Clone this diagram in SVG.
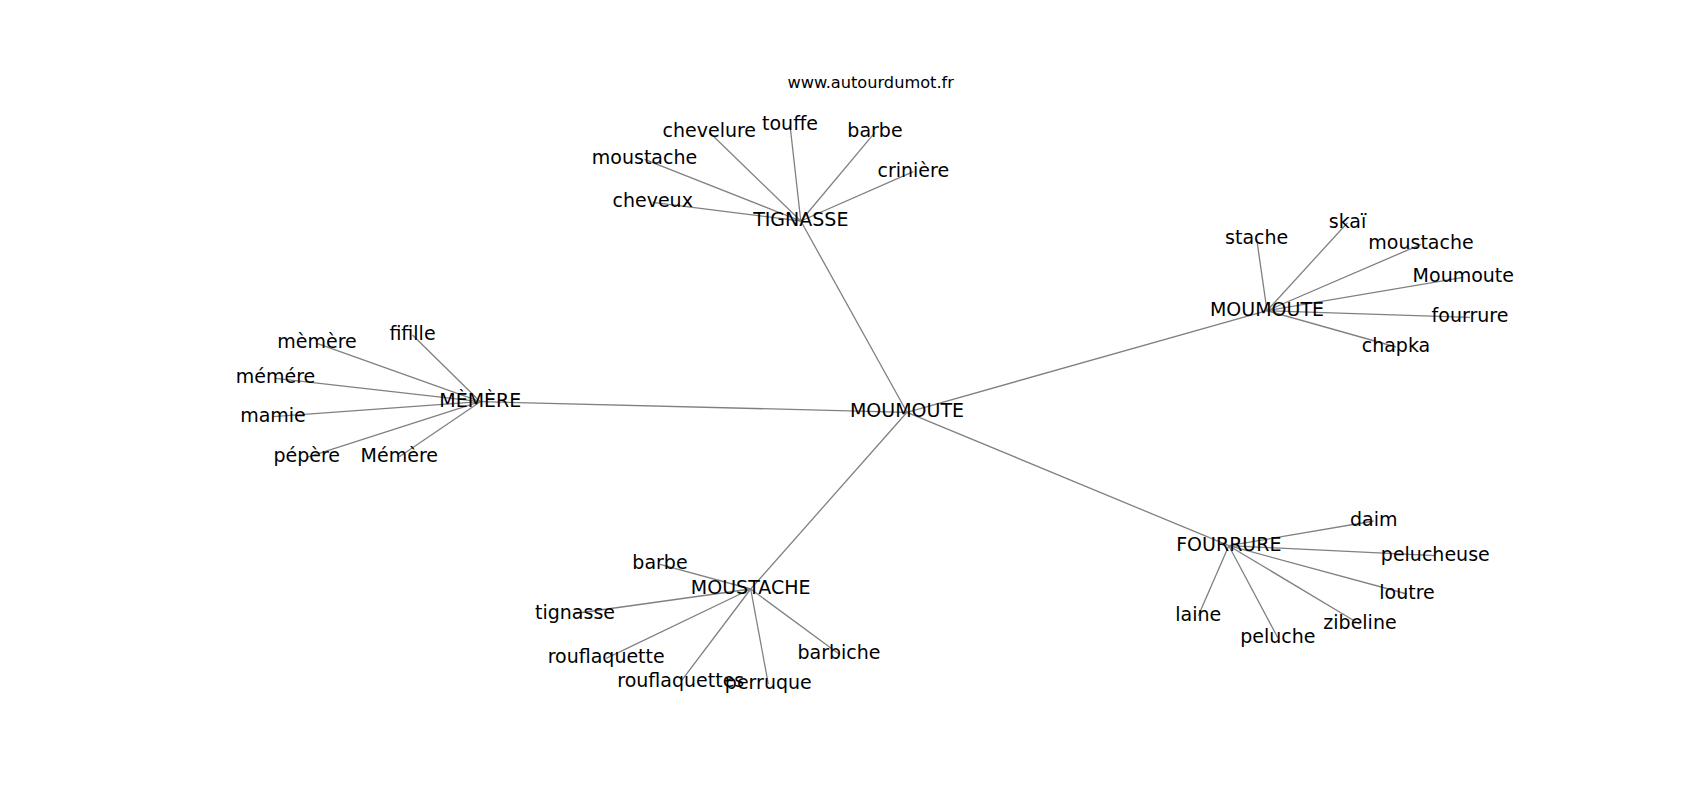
<svg xmlns="http://www.w3.org/2000/svg" width="1700" height="800" viewBox="0 0 1700 800">
<style>
.e{stroke:#808080;stroke-width:1.3;fill:none}
text{font-family:"DejaVu Sans","Liberation Sans",sans-serif;font-size:19px;fill:#000;text-anchor:middle}
.u{font-size:16.2px}
</style>
<rect width="1700" height="800" fill="#fff"/>
<g id="connectors">
<line class="e" x1="907" y1="412.3" x2="800.8" y2="221"/>
<line class="e" x1="907" y1="412.3" x2="1267" y2="310.7"/>
<line class="e" x1="907" y1="412.3" x2="480.3" y2="401.7"/>
<line class="e" x1="907" y1="412.3" x2="750.7" y2="589"/>
<line class="e" x1="907" y1="412.3" x2="1228.8" y2="545.7"/>
<line class="e" x1="800.8" y1="221" x2="652.7" y2="202.3"/>
<line class="e" x1="800.8" y1="221" x2="644.5" y2="159.3"/>
<line class="e" x1="800.8" y1="221" x2="709.3" y2="132.3"/>
<line class="e" x1="800.8" y1="221" x2="790" y2="125"/>
<line class="e" x1="800.8" y1="221" x2="875" y2="132.3"/>
<line class="e" x1="800.8" y1="221" x2="913.3" y2="171.7"/>
<line class="e" x1="1267" y1="310.7" x2="1256.7" y2="239"/>
<line class="e" x1="1267" y1="310.7" x2="1347.5" y2="222.7"/>
<line class="e" x1="1267" y1="310.7" x2="1421" y2="244.3"/>
<line class="e" x1="1267" y1="310.7" x2="1463.3" y2="277.3"/>
<line class="e" x1="1267" y1="310.7" x2="1470" y2="317.3"/>
<line class="e" x1="1267" y1="310.7" x2="1396" y2="347"/>
<line class="e" x1="480.3" y1="401.7" x2="412.5" y2="335"/>
<line class="e" x1="480.3" y1="401.7" x2="317" y2="343.3"/>
<line class="e" x1="480.3" y1="401.7" x2="275.5" y2="378.3"/>
<line class="e" x1="480.3" y1="401.7" x2="273" y2="416.7"/>
<line class="e" x1="480.3" y1="401.7" x2="306.7" y2="457.3"/>
<line class="e" x1="480.3" y1="401.7" x2="399.3" y2="456.7"/>
<line class="e" x1="750.7" y1="589" x2="660" y2="564.3"/>
<line class="e" x1="750.7" y1="589" x2="575" y2="613.5"/>
<line class="e" x1="750.7" y1="589" x2="606.2" y2="658.3"/>
<line class="e" x1="750.7" y1="589" x2="680.8" y2="681.7"/>
<line class="e" x1="750.7" y1="589" x2="768.3" y2="684"/>
<line class="e" x1="750.7" y1="589" x2="839" y2="654"/>
<line class="e" x1="1228.8" y1="545.7" x2="1373.7" y2="521"/>
<line class="e" x1="1228.8" y1="545.7" x2="1435.3" y2="555.7"/>
<line class="e" x1="1228.8" y1="545.7" x2="1407" y2="594"/>
<line class="e" x1="1228.8" y1="545.7" x2="1360" y2="624.3"/>
<line class="e" x1="1228.8" y1="545.7" x2="1198.3" y2="615.7"/>
<line class="e" x1="1228.8" y1="545.7" x2="1277.8" y2="637.7"/>
</g>
<g id="n-moumoute-center"><text x="907" y="417.3">MOUMOUTE</text></g>
<g id="n-tignasse"><text x="800.8" y="226">TIGNASSE</text></g>
<g id="n-cheveux"><text x="652.7" y="207.3">cheveux</text></g>
<g id="n-moustache-t"><text x="644.5" y="164.3">moustache</text></g>
<g id="n-chevelure"><text x="709.3" y="137.3">chevelure</text></g>
<g id="n-touffe"><text x="790" y="130">touffe</text></g>
<g id="n-barbe-t"><text x="875" y="137.3">barbe</text></g>
<g id="n-criniere"><text x="913.3" y="176.7">crinière</text></g>
<g id="n-moumoute"><text x="1267" y="315.7">MOUMOUTE</text></g>
<g id="n-stache"><text x="1256.7" y="244">stache</text></g>
<g id="n-skai"><text x="1347.5" y="227.7">skaï</text></g>
<g id="n-moustache-m"><text x="1421" y="249.3">moustache</text></g>
<g id="n-moumoute-l"><text x="1463.3" y="282.3">Moumoute</text></g>
<g id="n-fourrure-l"><text x="1470" y="322.3">fourrure</text></g>
<g id="n-chapka"><text x="1396" y="352">chapka</text></g>
<g id="n-memere"><text x="480.3" y="406.7">MÈMÈRE</text></g>
<g id="n-fifille"><text x="412.5" y="340">fifille</text></g>
<g id="n-memere2"><text x="317" y="348.3">mèmère</text></g>
<g id="n-memere3"><text x="275.5" y="383.3">mémére</text></g>
<g id="n-mamie"><text x="273" y="421.7">mamie</text></g>
<g id="n-pepere"><text x="306.7" y="462.3">pépère</text></g>
<g id="n-memere4"><text x="399.3" y="461.7">Mémère</text></g>
<g id="n-moustache"><text x="750.7" y="594">MOUSTACHE</text></g>
<g id="n-barbe-m"><text x="660" y="569.3">barbe</text></g>
<g id="n-tignasse-l"><text x="575" y="618.5">tignasse</text></g>
<g id="n-rouflaquette"><text x="606.2" y="663.3">rouflaquette</text></g>
<g id="n-rouflaquettes"><text x="680.8" y="686.7">rouflaquettes</text></g>
<g id="n-perruque"><text x="768.3" y="689">perruque</text></g>
<g id="n-barbiche"><text x="839" y="659">barbiche</text></g>
<g id="n-fourrure"><text x="1228.8" y="550.7">FOURRURE</text></g>
<g id="n-daim"><text x="1373.7" y="526">daim</text></g>
<g id="n-pelucheuse"><text x="1435.3" y="560.7">pelucheuse</text></g>
<g id="n-loutre"><text x="1407" y="599">loutre</text></g>
<g id="n-zibeline"><text x="1360" y="629.3">zibeline</text></g>
<g id="n-laine"><text x="1198.3" y="620.7">laine</text></g>
<g id="n-peluche"><text x="1277.8" y="642.7">peluche</text></g>
<text class="u" x="870.7" y="88.3">www.autourdumot.fr</text>
</svg>
